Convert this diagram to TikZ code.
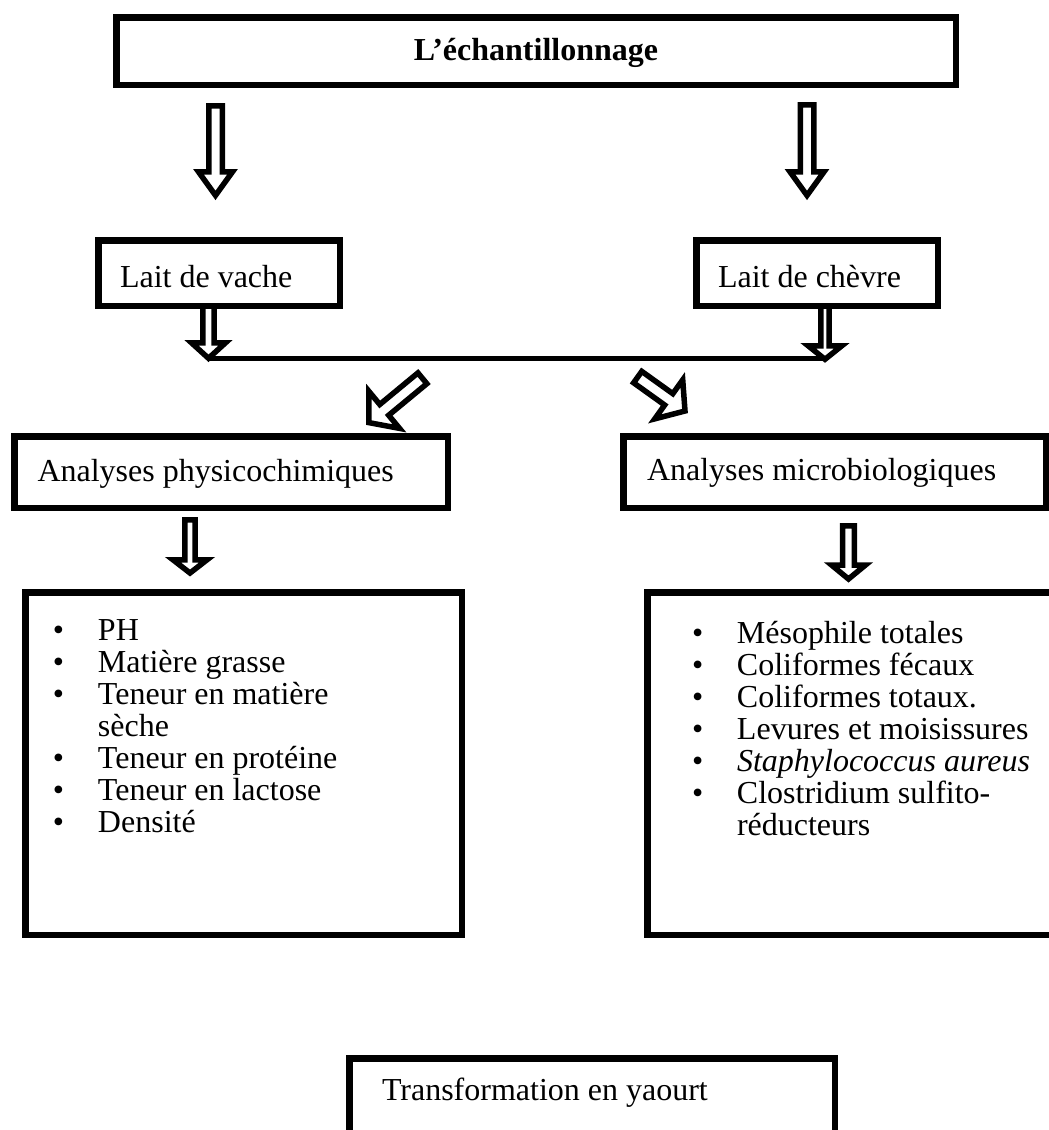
\documentclass[tikz,border=0pt]{standalone}
\usepackage{fontspec}
\setmainfont{Liberation Serif}
\usetikzlibrary{calc}
\tikzset{
  bx/.style={draw, line width=3.25pt, inner sep=0pt, outer sep=0pt, anchor=north west,
             font=\fontsize{16pt}{16pt}\selectfont},
  blockarrow/.style={draw, fill=white, line width=2.75pt, line join=miter, miter limit=10},
  joinline/.style={line width=2.75pt}
}
\newcommand\bxt[3]{\makebox[#1][l]{\hspace*{#2}#3}}
\newcommand\blt{\textbullet}
\newcommand\blkarrow[5]{%
  \coordinate (bah) at ($(#2)!#5!(#1)$);
  \draw[blockarrow] ($(#1)!#3!90:(#2)$) -- ($(bah)!#3!-90:(#1)$) -- ($(bah)!#4!-90:(#1)$)
     -- (#2) -- ($(bah)!#4!90:(#1)$) -- ($(bah)!#3!90:(#1)$) -- ($(#1)!#3!-90:(#2)$) -- cycle;
}
\begin{document}
\begin{tikzpicture}[x=0.5pt,y=-0.5pt]
\useasboundingbox (0,0) rectangle (1049,1130);
\clip (0,0) rectangle (1049,1130);

% arrow end points
\coordinate (a1s) at (215.5,105.75);  \coordinate (a1e) at (215.5,195.4);
\coordinate (a2s) at (807,104.75);    \coordinate (a2e) at (807,195.4);
\coordinate (a3s) at (208.5,306);     \coordinate (a3e) at (208.5,358.3);
\coordinate (a4s) at (825,306);       \coordinate (a4e) at (825,359.3);
\coordinate (a5s) at (422.4,378.3);   \coordinate (a5e) at (368.8,422.6);
\coordinate (a6s) at (637.7,377.1);   \coordinate (a6e) at (685,411);
\coordinate (a7s) at (190,519.75);    \coordinate (a7e) at (190,573);
\coordinate (a8s) at (848.5,525.75);  \coordinate (a8e) at (848.5,579);

\blkarrow{a1s}{a1e}{3.375pt}{8.5pt}{11.8pt}
\blkarrow{a2s}{a2e}{3.375pt}{8.5pt}{11.8pt}
\blkarrow{a3s}{a3e}{2.8pt}{8.5pt}{7.75pt}
\blkarrow{a4s}{a4e}{2.1pt}{8.4pt}{6.75pt}
\draw[joinline] (a3e) -- (a3e -| a4e);
\blkarrow{a5s}{a5e}{3.5pt}{12pt}{10pt}
\blkarrow{a6s}{a6e}{3.5pt}{12pt}{10pt}
\blkarrow{a7s}{a7e}{2.6pt}{8.5pt}{6.6pt}
\blkarrow{a8s}{a8e}{2.9pt}{8.5pt}{7pt}

% boxes
\node[bx, text height=21.375pt, text depth=12.375pt] (top) at (116.25,17.25)
  {\makebox[419.75pt][c]{\bfseries L’échantillonnage}};
\node[bx, text height=23.375pt, text depth=9.375pt] (vache) at (98.25,240.25)
  {\bxt{120.75pt}{10.875pt}{Lait de vache}};
\node[bx, text height=23.375pt, text depth=9.375pt] (chevre) at (696.25,240.25)
  {\bxt{120.75pt}{10.875pt}{Lait de chèvre}};
\node[bx, text height=22.375pt, text depth=13.375pt] (physico) at (14.25,436.25)
  {\bxt{216.75pt}{11.625pt}{Analyses physicochimiques}};
\node[bx, text height=21.875pt, text depth=13.875pt] (micro) at (623.25,436.25)
  {\bxt{211.25pt}{11.875pt}{Analyses microbiologiques}};
\node[bx, text height=23.875pt, text depth=147.375pt] (listL) at (25.25,592.25)
  {\bxt{218.25pt}{13.875pt}{\begin{tabular}[t]{@{}p{22.5pt}@{}l@{}}
   \blt & PH\\
   \blt & Matière grasse\\
   \blt & Teneur en matière\\
        & sèche\\
   \blt & Teneur en protéine\\
   \blt & Teneur en lactose\\
   \blt & Densité
   \end{tabular}}};
\node[bx, text height=25.375pt, text depth=145.875pt] (listR) at (647.25,592.25)
  {\bxt{214.75pt}{22.375pt}{\begin{tabular}[t]{@{}p{22.5pt}@{}l@{}}
   \blt & Mésophile totales\\
   \blt & Coliformes fécaux\\
   \blt & Coliformes totaux.\\
   \blt & Levures et moisissures\\
   \blt & \textit{Staphylococcus aureus}\\
   \blt & Clostridium sulfito-\\
        & réducteurs
   \end{tabular}}};
\node[bx, text height=20.875pt, text depth=28.375pt] (yaourt) at (349.25,1058.25)
  {\bxt{242.75pt}{16.375pt}{Transformation en yaourt}};
\end{tikzpicture}
\end{document}
